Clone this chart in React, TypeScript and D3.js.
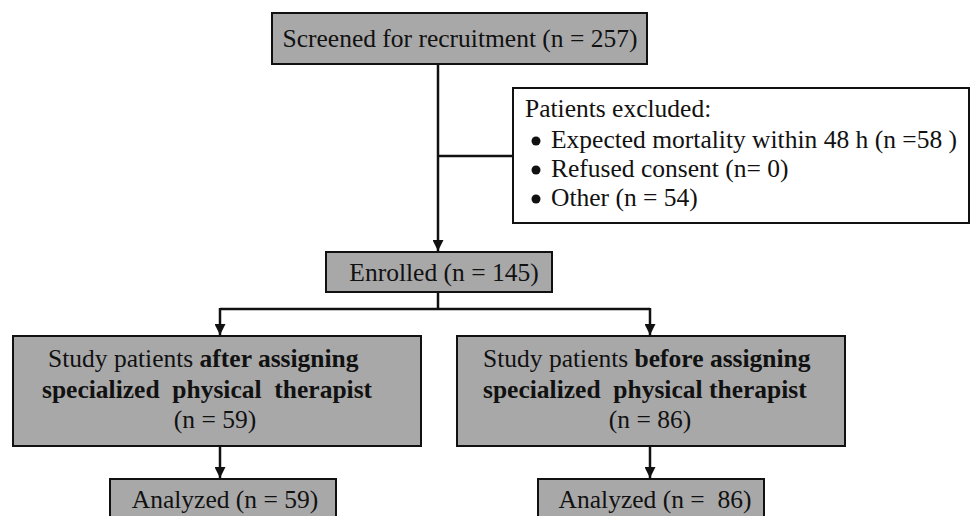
import React, { useEffect, useRef } from "react";
import * as d3 from "d3";

// flow counts
const screened = 257;
const excludedLabels = ["Expected mortality within 48 h (n =58 )", "Refused consent (n= 0)", "Other (n = 54)"];
const enrolled = 145;
const groupCounts = [59, 86];
const groupWords = ["after assigning", "before assigning"];
const analyzedLabels = ["Analyzed (n = 59)", "Analyzed (n =  86)"];

const W = 972;
const H = 516;
const gray = "#a8a8a8";
const font = "'Liberation Serif', 'Times New Roman', serif";

export default function App() {
  const ref = useRef<SVGSVGElement>(null);

  useEffect(() => {
    const svg = d3.select(ref.current);
    svg.selectAll("*").remove();

    const defs = svg.append("defs");
    defs.append("marker")
      .attr("id", "arr")
      .attr("viewBox", "0 0 10 10")
      .attr("refX", 10).attr("refY", 5)
      .attr("markerWidth", 11).attr("markerHeight", 11)
      .attr("markerUnits", "userSpaceOnUse")
      .attr("orient", "auto")
      .append("path").attr("d", "M0,0L10,5L0,10Z").attr("fill", "#111");

    const box = (x: number, y: number, w: number, h: number, fill: string) =>
      svg.append("rect")
        .attr("x", x).attr("y", y).attr("width", w).attr("height", h)
        .attr("fill", fill).attr("stroke", "#111").attr("stroke-width", 2);

    const line = (pts: [number, number][], arrow = false) => {
      const p = svg.append("path")
        .attr("d", d3.line()(pts))
        .attr("fill", "none").attr("stroke", "#111").attr("stroke-width", 2.5);
      if (arrow) p.attr("marker-end", "url(#arr)");
    };

    const text = (x: number, y: number, s: string, anchor = "middle") =>
      svg.append("text")
        .attr("x", x).attr("y", y)
        .attr("text-anchor", anchor)
        .attr("font-family", font).attr("font-size", 25.5).attr("fill", "#111")
        .text(s);

    // connectors
    line([[438, 64], [438, 251]], true);
    line([[438, 156], [513, 156]]);
    line([[438, 292], [438, 309]]);
    line([[220, 309], [650, 309]]);
    line([[220, 308], [220, 335]], true);
    line([[650, 308], [650, 335]], true);
    line([[220, 446], [220, 478]], true);
    line([[650, 446], [650, 478]], true);

    // top
    box(272, 13, 375, 51, gray);
    text(460, 47, `Screened for recruitment (n = ${screened})`);

    // excluded
    box(513, 88, 456, 135, "#fff");
    text(525, 117, "Patients excluded:", "start");
    excludedLabels.forEach((s, i) => {
      const y = 148 + i * 29;
      svg.append("circle").attr("cx", 536).attr("cy", y - 7).attr("r", 4.5).attr("fill", "#111");
      text(551, y, s, "start");
    });

    // enrolled
    box(326, 252, 226, 40, gray);
    text(444, 281, `Enrolled (n = ${enrolled})`);

    // groups
    const gx = [13, 457];
    const gw = [408, 388];
    groupCounts.forEach((n, i) => {
      box(gx[i], 336, gw[i], 110, gray);
      const t1 = text(gx[i] + (i === 0 ? 35 : 26), 367, "", "start");
      t1.append("tspan").text("Study patients ");
      t1.append("tspan").attr("font-weight", "bold").text(groupWords[i]);
      const t2 = text(gx[i] + (i === 0 ? 29 : 26), 398, "", "start")
        .attr("font-weight", "bold").attr("xml:space", "preserve");
      t2.text(i === 0 ? "specialized  physical  therapist" : "specialized  physical therapist");
      text(i === 0 ? 215 : 650, 428, `(n = ${n})`);
    });

    // analyzed
    const ax = [110, 538];
    analyzedLabels.forEach((s, i) => {
      box(ax[i], 479, 226, 50, gray);
      text(ax[i] + (i === 0 ? 115 : 117), 508, s).attr("xml:space", "preserve");
    });
  }, []);

  return (
    <svg ref={ref} width={W} height={H} style={{ position: "absolute", left: 0, top: 0, background: "#fff" }} />
  );
}
